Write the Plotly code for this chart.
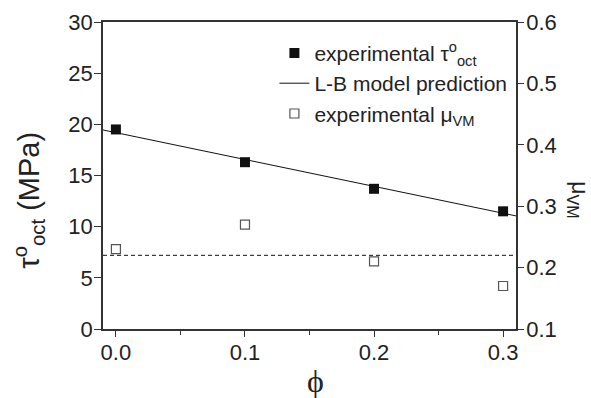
import plotly.graph_objects as go

phi = [0.0, 0.1, 0.2, 0.3]
tau_exp = [19.5, 16.3, 13.7, 11.5]
mu_exp = [0.23, 0.27, 0.21, 0.17]
model_phi = [-0.01, 0.31]
model_tau = [19.45, 11.05]
mu_ref_phi = [-0.01, 0.31]
mu_ref = [0.22, 0.22]

FONT = "Liberation Sans, Arial, sans-serif"
AX = "#333333"
TXT = "#222222"

fig = go.Figure()
fig.add_trace(go.Scatter(x=phi, y=tau_exp, mode="markers",
                         marker=dict(symbol="square", size=10, color="#111111"),
                         name="experimental τ<sup>o</sup><sub>oct</sub>"))
fig.add_trace(go.Scatter(x=model_phi, y=model_tau, mode="lines",
                         line=dict(color="#111111", width=1),
                         name="L-B model prediction"))
fig.add_trace(go.Scatter(x=phi, y=mu_exp, mode="markers", yaxis="y2",
                         marker=dict(symbol="square-open", size=9, color="#555555",
                                     line=dict(width=1.2)),
                         name="experimental μ<sub>VM</sub>"))
fig.add_trace(go.Scatter(x=mu_ref_phi, y=mu_ref, mode="lines", yaxis="y2",
                         line=dict(color="#111111", width=1, dash="4px,3px"),
                         showlegend=False))

fig.update_layout(
    width=591, height=398,
    margin=dict(l=103, r=75, t=22, b=69),
    paper_bgcolor="white", plot_bgcolor="white",
    font=dict(family=FONT, size=22, color=TXT),
    showlegend=True,
    legend=dict(x=0.415, y=0.965, xanchor="left", yanchor="top",
                bgcolor="rgba(0,0,0,0)", font=dict(size=21, family=FONT),
                tracegroupgap=0),
    xaxis=dict(range=[-0.01, 0.31], dtick=0.1, tick0=0, tickformat=".1f",
               showgrid=False, zeroline=False, showline=True, linecolor=AX,
               linewidth=1.5, mirror=True, ticks="outside", ticklen=6,
               tickwidth=1.2, tickcolor=AX, automargin=False,
               ticklabelstandoff=-3,
               minor=dict(dtick=0.05, tick0=0, ticks="outside", ticklen=4,
                          tickcolor=AX, tickwidth=1.2, showgrid=False)),
    yaxis=dict(range=[0, 30], dtick=5, showgrid=False, zeroline=False,
               showline=True, linecolor=AX, linewidth=1.5, ticks="outside",
               ticklen=7, tickwidth=1.2, tickcolor=AX, automargin=False,
               ticklabelstandoff=-3),
    yaxis2=dict(range=[0.1, 0.6], dtick=0.1, tick0=0.1, tickformat=".1f",
                overlaying="y", side="right", showgrid=False, zeroline=False,
                showline=True, linecolor=AX, linewidth=1.5, ticks="outside",
                ticklen=6, tickwidth=1.2, tickcolor=AX, automargin=False,
                ticklabelstandoff=-2),
    annotations=[
        dict(text="μ<sub>VM</sub>", textangle=90, xref="paper", yref="paper",
             x=1.152, y=0.42, xanchor="center", yanchor="middle", showarrow=False,
             font=dict(size=23, family=FONT, color=TXT)),
        dict(text="τ<sup>o</sup><sub>oct</sub> (MPa)", textangle=-90, xref="paper", yref="paper",
             x=-0.18, y=0.42, xanchor="center", yanchor="middle", showarrow=False,
             font=dict(size=29, family=FONT, color=TXT)),
        dict(text="ϕ", xref="paper", yref="paper",
             x=0.514, y=-0.168, xanchor="center", yanchor="middle", showarrow=False,
             font=dict(size=32, family="Liberation Serif, Times New Roman, serif", color=TXT)),
    ],
)

fig.write_html("out.html")
